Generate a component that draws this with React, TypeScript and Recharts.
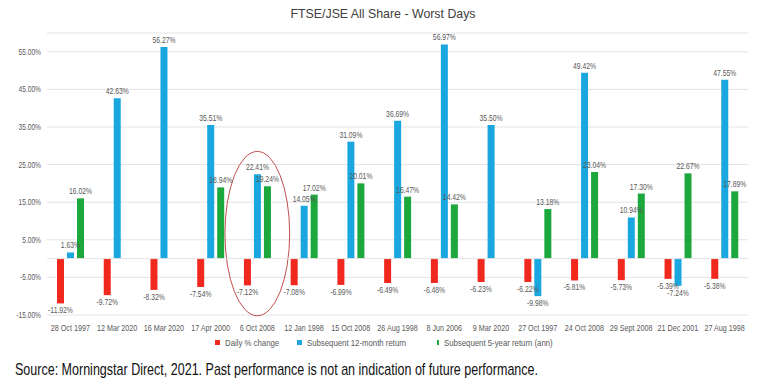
import {
  BarChart,
  Bar,
  XAxis,
  YAxis,
  CartesianGrid,
  Legend,
  LabelList,
  ReferenceLine,
  ReferenceArea,
} from 'recharts'

const days = [
  '28 Oct 1997',
  '12 Mar 2020',
  '16 Mar 2020',
  '17 Apr 2000',
  '6 Oct 2008',
  '12 Jan 1998',
  '15 Oct 2008',
  '26 Aug 1998',
  '8 Jun 2006',
  '9 Mar 2020',
  '27 Oct 1997',
  '24 Oct 2008',
  '29 Sept 2008',
  '21 Dec 2001',
  '27 Aug 1998',
]

const dailyChange = [-11.92, -9.72, -8.32, -7.54, -7.12, -7.08, -6.99, -6.49, -6.48, -6.23, -6.22, -5.81, -5.73, -5.39, -5.38]
const return12m = [1.63, 42.63, 56.27, 35.51, 22.41, 14.05, 31.09, 36.69, 56.97, 35.5, -9.98, 49.42, 10.94, -7.24, 47.55]
const return5y = [16.02, null, null, 18.94, 19.24, 17.02, 20.01, 16.47, 14.42, null, 13.18, 23.04, 17.3, 22.67, 17.89]

const yTicks = [-15, -5, 5, 15, 25, 35, 45, 55]

const series = [
  { key: 'daily', name: 'Daily % change', color: '#F0281E' },
  { key: 'm12', name: 'Subsequent 12-month return', color: '#1AA7E0' },
  { key: 'y5', name: 'Subsequent 5-year return (ann)', color: '#1CA83C' },
]

const data = days.map((day, i) => ({
  day,
  daily: dailyChange[i],
  m12: return12m[i],
  y5: return5y[i],
}))

const FONT = '"Liberation Sans", Arial, sans-serif'
const GREY = '#595959'

// the original uses a narrow face, so squeeze text horizontally
function BarValue(props: any) {
  const { x, y, width, height, value } = props
  if (value === null || value === undefined) return null
  const top = Math.min(y, y + height)
  const bottom = Math.max(y, y + height)
  const cx = x + width / 2
  const ty = value >= 0 ? top - 4 : bottom + 10
  return (
    <g transform={`translate(${cx},${ty}) scale(0.8,1)`}>
      <text x={0} y={0} textAnchor="middle" fontSize={8.5} fill={GREY} fontFamily={FONT}>
        {`${value.toFixed(2)}%`}
      </text>
    </g>
  )
}

function XTick(props: any) {
  const { x, y, payload } = props
  return (
    <g transform={`translate(${x},${y}) scale(0.8,1)`}>
      <text x={0} y={0} dy="0.71em" textAnchor="middle" fontSize={9} fill={GREY} fontFamily={FONT}>
        {payload.value}
      </text>
    </g>
  )
}

function YTick(props: any) {
  const { x, y, payload } = props
  return (
    <g transform={`translate(${x},${y}) scale(0.78,1)`}>
      <text x={0} y={0} dy="0.355em" textAnchor="end" fontSize={8.5} fill={GREY} fontFamily={FONT}>
        {`${payload.value.toFixed(2)}%`}
      </text>
    </g>
  )
}

// hand-drawn style ring round 6 Oct 2008
function Ring(props: any) {
  const { x, y, width, height } = props
  return (
    <ellipse
      cx={x + width / 2}
      cy={y + height / 2}
      rx={width / 2 + 9}
      ry={height / 2}
      fill="none"
      stroke="#C0504D"
      strokeWidth={1}
    />
  )
}

const legendSlots = [82, 140, 140]

function LegendRow() {
  return (
    <div style={{ display: 'flex', paddingLeft: 215, fontFamily: FONT }}>
      {series.map((s, i) => (
        <div key={s.key} style={{ width: legendSlots[i], display: 'flex', alignItems: 'center' }}>
          <span style={{ width: 5, height: 5, background: s.color, display: 'inline-block', marginRight: 5 }} />
          <span
            style={{
              fontSize: 9.5,
              color: GREY,
              display: 'inline-block',
              whiteSpace: 'nowrap',
              transform: 'scaleX(0.82)',
              transformOrigin: 'left center',
            }}
          >
            {s.name}
          </span>
        </div>
      ))}
    </div>
  )
}

export default function App() {
  return (
    <div style={{ position: 'relative', width: 770, height: 385, background: '#fff', fontFamily: FONT }}>
      <style>{'body{margin:0}'}</style>
      <div
        style={{
          position: 'absolute',
          top: 6,
          left: 0,
          width: 766,
          textAlign: 'center',
          fontSize: 13,
          color: '#404040',
          transform: 'scaleX(0.95)',
        }}
      >
        FTSE/JSE All Share - Worst Days
      </div>
      <BarChart
        width={770}
        height={385}
        data={data}
        margin={{ top: 33, right: 22, left: 0, bottom: 32 }}
        barSize={7}
        barGap={3}
      >
        <CartesianGrid vertical={false} stroke="#e3e3e3" />
        <XAxis dataKey="day" axisLine={false} tickLine={false} height={22} interval={0} tick={XTick} tickMargin={4} />
        <YAxis
          domain={[-15, 60]}
          ticks={yTicks}
          width={47}
          axisLine={false}
          tickLine={false}
          tickMargin={0}
          tick={YTick}
        />
        <ReferenceLine y={0} stroke="#e3e3e3" />
        <Legend
          verticalAlign="bottom"
          height={16}
          content={LegendRow}
          wrapperStyle={{ left: 0, width: 770 }}
        />
        {series.map((s) => (
          <Bar key={s.key} dataKey={s.key} name={s.name} fill={s.color} isAnimationActive={false}>
            <LabelList dataKey={s.key} content={BarValue} />
          </Bar>
        ))}
        <ReferenceArea
          x1="6 Oct 2008"
          x2="6 Oct 2008"
          y1={-15.2}
          y2={28.5}
          shape={Ring}
          ifOverflow="visible"
        />
      </BarChart>
      <div
        style={{
          position: 'absolute',
          top: 360,
          left: 15,
          fontSize: 17,
          color: '#111',
          whiteSpace: 'nowrap',
          transform: 'scaleX(0.736)',
          transformOrigin: 'left center',
        }}
      >
        Source: Morningstar Direct, 2021. Past performance is not an indication of future performance.
      </div>
    </div>
  )
}
